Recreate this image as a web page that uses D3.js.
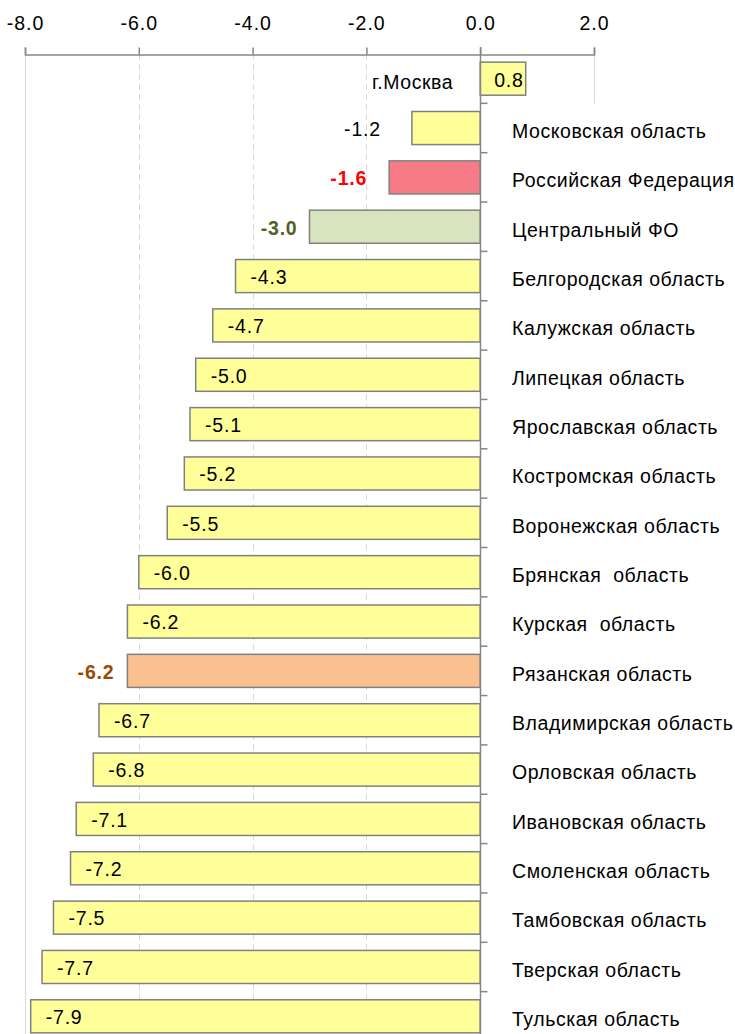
<!DOCTYPE html>
<html>
<head>
<meta charset="utf-8">
<script src="https://cdn.jsdelivr.net/npm/d3@7"></script>
<style>
  body { margin: 0; background: #fff; }
  svg text { font-family: "Liberation Sans", Arial, sans-serif; }
</style>
</head>
<body>
<div id="chart"></div>
<script>
// data
const categories = [
  "г.Москва", "Московская область", "Российская Федерация", "Центральный ФО",
  "Белгородская область", "Калужская область", "Липецкая область", "Ярославская область",
  "Костромская область", "Воронежская область", "Брянская  область", "Курская  область",
  "Рязанская область", "Владимирская область", "Орловская область", "Ивановская область",
  "Смоленская область", "Тамбовская область", "Тверская область", "Тульская область"
];
const values = [0.8, -1.2, -1.6, -3.0, -4.3, -4.7, -5.0, -5.1, -5.2, -5.5, -6.0, -6.2,
  -6.2, -6.7, -6.8, -7.1, -7.2, -7.5, -7.7, -7.9];
const tickValues = [-8, -6, -4, -2, 0, 2];

// highlighted rows (style only)
const special = {
  "Российская Федерация": {fill: "#F77B86", label: "#FF0000", bold: true, outside: 22},
  "Центральный ФО": {fill: "#D7E4BD", label: "#4F6228", bold: true, outside: 12},
  "Рязанская область": {fill: "#FAC090", label: "#984807", bold: true, outside: 13},
  "Московская область": {outside: 31}
};

const width = 735, height = 1034;
const svg = d3.select("#chart").append("svg")
  .attr("width", width)
  .attr("height", height);

const x = d3.scaleLinear().domain([-8, 2]).range([25, 594]);
const y = d3.scaleBand().domain(categories).range([54, 1041])
  .paddingInner(0.33).paddingOuter(0.165);

const fs = 19.5;
const fmt = d3.formatLocale({decimal: ".", thousands: ",", grouping: [3], currency: ["", ""], minus: "-"}).format(".1f");

// grid
svg.append("g").selectAll("line")
  .data(tickValues.filter(d => d !== 0))
  .join("line")
  .attr("x1", d => Math.round(x(d)) + 0.5)
  .attr("x2", d => Math.round(x(d)) + 0.5)
  .attr("y1", 54)
  .attr("y2", d => d === 2 ? y.range()[0] + y.step() : height)
  .attr("stroke", "#D9D9D9")
  .attr("stroke-width", 1)
  .attr("stroke-dasharray", d => (d === -8 || d === 2) ? null : "6,4");

// top axis
const axis = d3.axisTop(x).tickValues(tickValues).tickFormat(fmt).tickSize(7).tickPadding(18);
const ax = svg.append("g").attr("transform", "translate(0,54.5)").call(axis);
ax.select(".domain").attr("stroke", "#868686").attr("stroke-width", 1.5);
ax.selectAll(".tick line").attr("stroke", "#868686").attr("stroke-width", 1.5);
ax.selectAll(".tick text")
  .attr("fill", "#000")
  .style("font-size", fs + "px")
  .style("font-family", "'Liberation Sans', Arial, sans-serif")
  .attr("letter-spacing", "1px");

// bars
svg.append("g").selectAll("rect")
  .data(categories)
  .join("rect")
  .attr("x", (d, i) => x(Math.min(0, values[i])))
  .attr("y", d => y(d))
  .attr("width", (d, i) => Math.abs(x(values[i]) - x(0)))
  .attr("height", y.bandwidth())
  .attr("fill", d => special[d] && special[d].fill ? special[d].fill : "#FFFF99")
  .attr("stroke", "#808080")
  .attr("stroke-width", 1.5);

// category axis at zero
const x0 = Math.round(x(0)) + 0.5;
svg.append("line")
  .attr("x1", x0).attr("x2", x0)
  .attr("y1", 47).attr("y2", height)
  .attr("stroke", "#868686").attr("stroke-width", 1.5);
svg.append("g").selectAll("line")
  .data(categories.slice(1))
  .join("line")
  .attr("x1", x0).attr("x2", x0 + 7)
  .attr("y1", d => y(d) - y.step() * 0.165)
  .attr("y2", d => y(d) - y.step() * 0.165)
  .attr("stroke", "#868686").attr("stroke-width", 1.5);

// category labels
svg.append("g").selectAll("text")
  .data(categories)
  .join("text")
  .attr("x", (d, i) => values[i] >= 0 ? x(0) - 27 : 512)
  .attr("y", d => y(d) + y.bandwidth() / 2 + 3)
  .attr("dy", "0.35em")
  .attr("text-anchor", (d, i) => values[i] >= 0 ? "end" : "start")
  .attr("letter-spacing", "0.55px")
  .style("white-space", "pre")
  .style("font-size", fs + "px")
  .text(d => d);

// value labels
svg.append("g").selectAll("text")
  .data(categories)
  .join("text")
  .attr("x", (d, i) => {
    const v = values[i];
    if (v >= 0) return x(v) - 2;
    if (special[d] && special[d].outside) return x(v) - special[d].outside;
    return x(v) + 15;
  })
  .attr("y", d => y(d) + y.bandwidth() / 2 + 1)
  .attr("dy", "0.35em")
  .attr("text-anchor", (d, i) => (values[i] >= 0 || (special[d] && special[d].outside)) ? "end" : "start")
  .attr("fill", d => special[d] && special[d].label ? special[d].label : "#000")
  .attr("font-weight", d => special[d] && special[d].bold ? "bold" : null)
  .attr("letter-spacing", "0.8px")
  .style("font-size", fs + "px")
  .text((d, i) => fmt(values[i]));
</script>
</body>
</html>
